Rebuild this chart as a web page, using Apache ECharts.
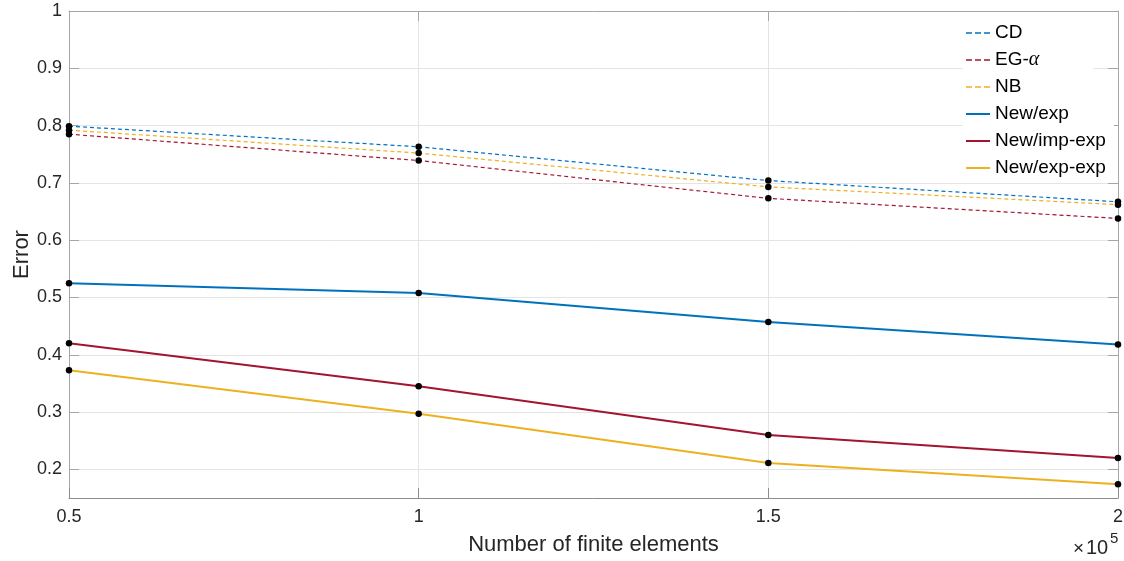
<!DOCTYPE html>
<html>
<head>
<meta charset="utf-8">
<script src="https://cdn.jsdelivr.net/npm/echarts@6/dist/echarts.min.js"></script>
<style>
  html, body { margin: 0; padding: 0; background: #fff; }
  #chart { width: 1124px; height: 561px; }
</style>
</head>
<body>
<div id="chart"></div>
<script>
// Mesh sizes (number of finite elements)
const elements = [50000, 100000, 150000, 200000];

// Error for each method
const cd        = [0.799, 0.763, 0.704, 0.667];
const egAlpha   = [0.785, 0.739, 0.673, 0.638];
const nb        = [0.792, 0.752, 0.693, 0.662];
const newExp    = [0.525, 0.508, 0.457, 0.418];
const newImpExp = [0.420, 0.345, 0.260, 0.220];
const newExpExp = [0.373, 0.297, 0.211, 0.174];

const yTicks = [0.2, 0.3, 0.4, 0.5, 0.6, 0.7, 0.8, 0.9, 1];
const xTickScale = 1e5;

const BLUE = '#0072BD', RED = '#A2142F', YELLOW = '#EDB120';
const FONT = '"Liberation Sans", Arial, Helvetica, sans-serif';
const TXT = '#262626';
const AXIS = '#a6a6a6';

const pairs = ys => elements.map((x, i) => [x, ys[i]]);

const DASH_ICON = 'path://M0,0h6v2h-6zM9,0h6v2h-6zM18,0h6v2h-6z';
const SOLID_ICON = 'path://M0,0h24v2h-24z';

function lineSeries(name, ys, color, dashed) {
  return {
    name: name,
    type: 'line',
    data: pairs(ys),
    symbol: 'circle',
    symbolSize: 6.5,
    itemStyle: { color: '#000', borderWidth: 0 },
    lineStyle: { color: color, width: dashed ? 1.2 : 2, type: dashed ? [4, 3] : 'solid' },
    emphasis: { disabled: true },
    animation: false,
    z: dashed ? 3 : 4
  };
}

const legendText = {
  fontFamily: FONT, fontSize: 19, color: '#000', lineHeight: 20,
  rich: {
    n: { fontFamily: FONT, fontSize: 19, color: '#000' },
    g: { fontFamily: '"Liberation Serif", "DejaVu Serif", serif', fontStyle: 'italic', fontSize: 20, color: '#000' }
  }
};
const legendFormatter = name => name === 'EG-α' ? '{n|EG-}{g|α}' : name;

const chart = echarts.init(document.getElementById('chart'), null, { renderer: 'canvas' });

chart.setOption({
  backgroundColor: '#fff',
  animation: false,
  grid: { left: 69, right: 6, top: 11, bottom: 63, containLabel: false, outerBoundsMode: 'none' },
  xAxis: [{
    type: 'value',
    position: 'bottom',
    min: 50000, max: 200000, interval: 50000,
    name: 'Number of finite elements',
    nameLocation: 'middle',
    nameGap: 36,
    nameMoveOverlap: false,
    nameTextStyle: { fontFamily: FONT, fontSize: 22, color: TXT },
    axisLine: { show: true, onZero: false, lineStyle: { color: '#8c8c8c', width: 1 } },
    axisTick: { show: true, inside: true, length: 10, lineStyle: { color: '#8c8c8c' } },
    axisLabel: {
      fontFamily: FONT, fontSize: 18, color: TXT, margin: 10,
      formatter: v => String(v / xTickScale)
    },
    splitLine: { show: true, lineStyle: { color: '#e4e4e4', width: 1 } }
  }, {
    type: 'value',
    position: 'top',
    min: 50000, max: 200000, interval: 50000,
    axisLine: { show: true, onZero: false, lineStyle: { color: AXIS, width: 1 } },
    axisTick: { show: true, inside: true, length: 10, lineStyle: { color: AXIS } },
    axisLabel: { show: false },
    splitLine: { show: false }
  }],
  yAxis: [{
    type: 'value',
    position: 'left',
    min: 0.15, max: 1,
    name: 'Error',
    nameLocation: 'middle',
    nameGap: 36,
    nameRotate: 90,
    nameMoveOverlap: false,
    nameTextStyle: { fontFamily: FONT, fontSize: 22, color: TXT },
    axisLine: { show: true, onZero: false, lineStyle: { color: AXIS, width: 1 } },
    axisTick: { show: true, inside: true, length: 10, customValues: yTicks, lineStyle: { color: AXIS } },
    axisLabel: { fontFamily: FONT, fontSize: 18, color: TXT, margin: 7, customValues: yTicks, formatter: v => String(+v.toFixed(2)) },
    splitLine: { show: true, lineStyle: { color: '#e4e4e4', width: 1 } }
  }, {
    type: 'value',
    position: 'right',
    min: 0.15, max: 1,
    axisLine: { show: true, onZero: false, lineStyle: { color: AXIS, width: 1 } },
    axisTick: { show: true, inside: true, length: 10, customValues: yTicks, lineStyle: { color: AXIS } },
    axisLabel: { show: false },
    splitLine: { show: false }
  }],
  legend: [{
    orient: 'vertical',
    left: 963, top: 17,
    padding: [6, 54, 7, 3],
    backgroundColor: '#fff',
    itemWidth: 24, itemHeight: 1.3, itemGap: 7,
    symbolKeepAspect: false,
    selectedMode: false,
    textStyle: legendText,
    formatter: legendFormatter,
    data: [
      { name: 'CD', icon: DASH_ICON, itemStyle: { color: BLUE, borderWidth: 0 } },
      { name: 'EG-α', icon: DASH_ICON, itemStyle: { color: RED, borderWidth: 0 } },
      { name: 'NB', icon: DASH_ICON, itemStyle: { color: YELLOW, borderWidth: 0 } }
    ]
  }, {
    orient: 'vertical',
    left: 963, top: 97,
    padding: [7, 8, 5, 3],
    backgroundColor: '#fff',
    itemWidth: 24, itemHeight: 2, itemGap: 7,
    symbolKeepAspect: false,
    selectedMode: false,
    textStyle: legendText,
    data: [
      { name: 'New/exp', icon: SOLID_ICON, itemStyle: { color: BLUE, borderWidth: 0 } },
      { name: 'New/imp-exp', icon: SOLID_ICON, itemStyle: { color: RED, borderWidth: 0 } },
      { name: 'New/exp-exp', icon: SOLID_ICON, itemStyle: { color: YELLOW, borderWidth: 0 } }
    ]
  }],
  graphic: [
    { type: 'text', left: 1073, top: 539, style: { text: '×', font: '19px ' + FONT, fill: TXT } },
    { type: 'text', left: 1086, top: 538, style: { text: '10', font: '20px ' + FONT, fill: TXT } },
    { type: 'text', left: 1110, top: 531, style: { text: '5', font: '15px ' + FONT, fill: TXT } }
  ],
  series: [
    lineSeries('CD', cd, BLUE, true),
    lineSeries('EG-α', egAlpha, RED, true),
    lineSeries('NB', nb, YELLOW, true),
    lineSeries('New/exp', newExp, BLUE, false),
    lineSeries('New/imp-exp', newImpExp, RED, false),
    lineSeries('New/exp-exp', newExpExp, YELLOW, false)
  ]
});
</script>
</body>
</html>
